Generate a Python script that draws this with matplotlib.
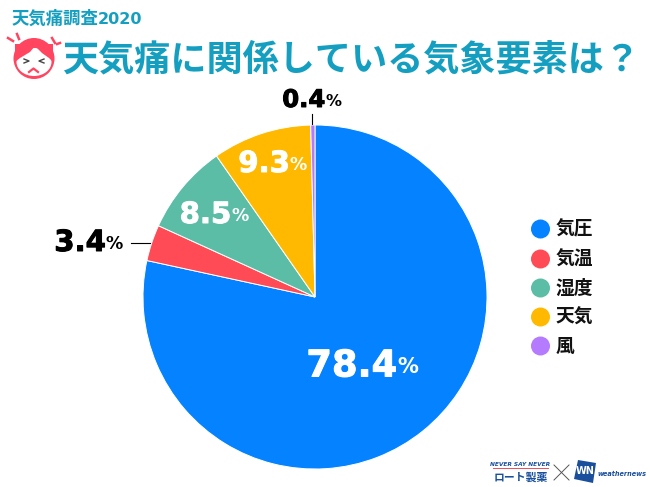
import matplotlib
matplotlib.use("Agg")
import matplotlib.pyplot as plt
import matplotlib.patheffects as pe
from matplotlib.patches import Circle, Ellipse, Polygon

plt.rcParams['font.family'] = ['Noto Sans CJK JP', 'DejaVu Sans']

labels = ["気圧", "気温", "湿度", "天気", "風"]
values = [78.4, 3.4, 8.5, 9.3, 0.4]
colors = ["#0482ff", "#ff4b55", "#5bbda5", "#ffb900", "#b57bff"]
teal = "#149fc0"

fig = plt.figure(figsize=(6.5, 4.87), dpi=100)
ax = fig.add_axes([0, 0, 1, 1])

def Y(y):
    return 487 - y

# pie
ax.pie(values, colors=colors, startangle=90, counterclock=False,
       center=(315, Y(297)), radius=172, frame=True,
       wedgeprops={"edgecolor": "white", "linewidth": 0.7})
ax.set_xlim(0, 650)
ax.set_ylim(0, 487)
ax.set_aspect("equal")
ax.axis("off")

# percent labels
def pct(val, x, y, size, small, color):
    ax.text(x, Y(y), val, fontsize=size, fontweight="bold", color=color,
            family="DejaVu Sans", ha="right", va="center",
            path_effects=[pe.withStroke(linewidth=0.7, foreground=color)])
    ax.text(x, Y(y + 1), "%", fontsize=small, fontweight="bold", color=color,
            family="DejaVu Sans", ha="left", va="center")

pct(f"{values[0]}", 397, 366, 26.5, 15, "white")
pct(f"{values[1]}", 106, 243, 21, 12.5, "black")
pct(f"{values[2]}", 231, 215, 21, 12.5, "white")
pct(f"{values[3]}", 290, 164, 21, 12.5, "white")
pct(f"{values[4]}", 325, 100, 17.5, 11.5, "black")

# leader lines
ax.plot([131, 150], [Y(243), Y(243)], color="black", lw=0.8)
ax.plot([312, 312], [Y(114), Y(124)], color="black", lw=0.8)

# legend
legend_y = [229, 259, 288, 317, 346]
for name, col, y in zip(labels, colors, legend_y):
    ax.add_patch(Circle((540.5, Y(y)), 9.5, color=col, lw=0))
    ax.text(556, Y(y), name, fontsize=13.5, fontweight="bold", color="#111111",
            ha="left", va="center")

# titles
ax.text(12, Y(19), "天気痛調査", fontsize=12.5, fontweight="bold", color=teal,
        ha="left", va="center")
ax.text(98, Y(19), "2020", fontsize=11.5, fontweight="bold", color=teal,
        ha="left", va="center", family="DejaVu Sans")
# \uff1f is the full-width question mark
ax.text(62, Y(60), "天気痛に関係している気象要素は\uff1f", fontsize=26,
        fontweight="bold", color=teal, ha="left", va="center")

# face icon
red = "#ff4560"
ax.add_patch(Circle((34, Y(58.5)), 20.5, color=red, lw=0))
ax.add_patch(Ellipse((34, Y(62)), 35, 28, color="white", lw=0))
ax.add_patch(Polygon([(15, Y(62)), (20, Y(58)), (30, Y(52)), (35, Y(46)), (42, Y(53)),
                      (49, Y(58)), (53, Y(62)), (53, Y(44)), (15, Y(44))], color=red, lw=0))
for pts in ([(24, 59), (29, 61), (24, 63)], [(44, 59), (39, 61), (44, 63)]):
    ax.plot([p[0] for p in pts], [Y(p[1]) for p in pts], color="#444444", lw=1)
ax.plot([29, 33.5, 38], [Y(72), Y(68.5), Y(72)], color=red, lw=1.6)
for seg in ([(8, 38), (13, 41)], [(17, 34), (19, 39)], [(52, 38), (55, 43)], [(57, 44), (60, 43)]):
    ax.plot([p[0] for p in seg], [Y(p[1]) for p in seg], color=red, lw=1.8)

# logos bottom right
blue = "#1a4f9c"
ax.text(520.5, Y(464), "NEVER SAY NEVER", fontsize=4.2, fontweight="bold", style="italic",
        color=blue, ha="center", va="center", family="DejaVu Sans")
ax.plot([493, 548], [Y(468), Y(468)], color="#e8505b", lw=0.7)
ax.text(520.5, Y(477.5), "ロート製薬", fontsize=7.8, fontweight="bold", color=blue,
        ha="center", va="center")
ax.plot([554, 569], [Y(465), Y(480)], color="#555555", lw=0.7)
ax.plot([554, 569], [Y(480), Y(465)], color="#555555", lw=0.7)
ax.add_patch(Polygon([(578, Y(460)), (596, Y(463)), (593, Y(483)), (574, Y(479))], color=blue, lw=0))
ax.text(585, Y(471), "WN", fontsize=7, fontweight="bold", color="white", ha="center", va="center",
        family="DejaVu Sans")
ax.text(597, Y(474), "weathernews", fontsize=4.7, fontweight="bold", style="italic", color=blue,
        ha="left", va="center", family="DejaVu Sans")

fig.savefig("out.png", dpi=100)
